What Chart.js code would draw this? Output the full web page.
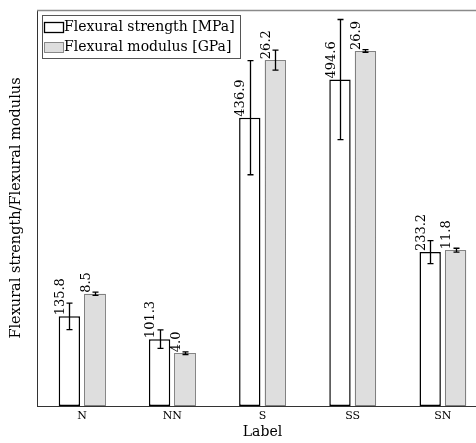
<!DOCTYPE html>
<html>
<head>
<meta charset="utf-8">
<script src="https://cdn.jsdelivr.net/npm/chart.js@4/dist/chart.umd.min.js"></script>
<style>
html, body { margin: 0; padding: 0; background: #fff; overflow: hidden; }
#wrap { width: 476px; height: 443px; overflow: hidden; }
canvas { display: block; }
</style>
</head>
<body>
<div id="wrap"><canvas id="myChart" width="500" height="443"></canvas></div>
<script>
// Data
const labels = ['N', 'NN', 'S', 'SS', 'SN'];
const strengthValues = [135.8, 101.3, 436.9, 494.6, 233.2];
const strengthErrors = [20, 14, 86.5, 91, 17.5];
const modulusValues = [8.5, 4.0, 26.2, 26.9, 11.8];
const modulusErrors = [0.12, 0.1, 0.76, 0.1, 0.15];

const serif = 'DejaVu Serif';
const errors = [strengthErrors, modulusErrors];

// error bars, dotted outline on the modulus bars, rotated value labels
const barExtras = {
    id: 'barExtras',
    beforeDatasetsDraw(chart) {
        const ctx = chart.ctx;
        const area = chart.chartArea;
        ctx.save();
        ctx.strokeStyle = '#8a8a8a';
        ctx.lineWidth = 1.5;
        ctx.beginPath();
        ctx.moveTo(area.left, area.top + 0.5);
        ctx.lineTo(area.right, area.top + 0.5);
        ctx.stroke();
        ctx.restore();
    },
    afterDatasetsDraw(chart) {
        const ctx = chart.ctx;
        ctx.save();

        // dotted outline for modulus bars
        const meta1 = chart.getDatasetMeta(1);
        ctx.strokeStyle = '#222';
        ctx.lineWidth = 1;
        ctx.setLineDash([1, 1]);
        meta1.data.forEach(bar => {
            const left = Math.round(bar.x - bar.width / 2) + 0.5;
            const right = Math.round(bar.x + bar.width / 2) - 0.5;
            const top = Math.round(bar.y) + 0.5;
            const bottom = Math.round(bar.base) - 0.5;
            ctx.strokeRect(left, top, right - left, bottom - top);
        });
        ctx.setLineDash([]);

        chart.data.datasets.forEach((ds, i) => {
            const meta = chart.getDatasetMeta(i);
            const scale = chart.scales[meta.yAxisID];
            meta.data.forEach((bar, j) => {
                const v = ds.data[j];
                const e = errors[i][j];
                const x = Math.round(bar.x) + 0.5;
                const yTop = scale.getPixelForValue(v + e);
                const yBot = scale.getPixelForValue(v - e);
                ctx.strokeStyle = '#000';
                ctx.lineWidth = 1.3;
                ctx.beginPath();
                ctx.moveTo(x, yTop);
                ctx.lineTo(x, yBot);
                ctx.moveTo(x - 3, yTop);
                ctx.lineTo(x + 3, yTop);
                ctx.moveTo(x - 3, yBot);
                ctx.lineTo(x + 3, yBot);
                ctx.stroke();

                // value label, rotated, starting at bar top
                ctx.save();
                ctx.translate(bar.x - bar.width / 2 + 2, bar.y - 1);
                ctx.rotate(-Math.PI / 2);
                ctx.fillStyle = '#000';
                ctx.font = '13px "' + serif + '"';
                ctx.textAlign = 'left';
                ctx.textBaseline = 'middle';
                ctx.fillText(v.toFixed(1), 0, 0);
                ctx.restore();
            });
        });
        ctx.restore();
    },
    afterDraw(chart) {
        // legend box inside the plot, top left
        const ctx = chart.ctx;
        ctx.save();
        ctx.fillStyle = '#fff';
        ctx.strokeStyle = '#555';
        ctx.lineWidth = 1;
        ctx.fillRect(42.5, 15.5, 198, 43);
        ctx.strokeRect(42.5, 15.5, 198, 43);

        ctx.strokeStyle = '#000';
        ctx.lineWidth = 1.3;
        ctx.fillStyle = '#fff';
        ctx.fillRect(44.5, 22.5, 19, 10);
        ctx.strokeRect(44.5, 22.5, 19, 10);

        ctx.fillStyle = '#dedede';
        ctx.fillRect(44.5, 42.5, 19, 10);
        ctx.strokeStyle = '#222';
        ctx.lineWidth = 1;
        ctx.setLineDash([1, 1]);
        ctx.strokeRect(44.5, 42.5, 19, 10);
        ctx.setLineDash([]);

        ctx.fillStyle = '#000';
        ctx.font = '14px "' + serif + '"';
        ctx.textAlign = 'left';
        ctx.textBaseline = 'middle';
        ctx.fillText(chart.data.datasets[0].label, 64, 27);
        ctx.fillText(chart.data.datasets[1].label, 64, 47);
        ctx.restore();
    }
};

const ctx = document.getElementById('myChart').getContext('2d');
const myChart = new Chart(ctx, {
    type: 'bar',
    data: {
        labels: labels,
        datasets: [{
            label: 'Flexural strength [MPa]',
            data: strengthValues,
            yAxisID: 'y',
            backgroundColor: '#ffffff',
            borderColor: '#000000',
            borderWidth: 1.5,
            borderSkipped: false,
            categoryPercentage: 0.564,
            barPercentage: 0.84
        }, {
            label: 'Flexural modulus [GPa]',
            data: modulusValues,
            yAxisID: 'y1',
            backgroundColor: '#dedede',
            borderWidth: 0,
            categoryPercentage: 0.564,
            barPercentage: 0.84
        }]
    },
    options: {
        responsive: false,
        animation: false,
        layout: { padding: { top: 10, right: 12, left: 0, bottom: 0 } },
        plugins: {
            legend: { display: false },
            tooltip: { enabled: false }
        },
        scales: {
            x: {
                grid: { display: false, drawTicks: false },
                border: { display: true, color: '#333', width: 1 },
                ticks: { color: '#000', font: { family: serif, size: 11 }, padding: 4 },
                title: { display: true, text: 'Label', color: '#000', font: { family: serif, size: 14 }, padding: { top: 0, bottom: 2 } },
                afterFit(scale) { scale.height = 37; }
            },
            y: {
                min: 0,
                max: 600,
                grid: { display: false, drawTicks: false },
                border: { display: true, color: '#333', width: 1 },
                ticks: { display: false },
                title: { display: true, text: 'Flexural strength/Flexural modulus', color: '#000', font: { family: serif, size: 14.5 }, padding: { top: 8, bottom: 0 } },
                afterFit(scale) { scale.width = 37; }
            },
            y1: {
                min: 0,
                max: 30,
                display: false,
                position: 'right'
            }
        }
    },
    plugins: [barExtras]
});
</script>
</body>
</html>
